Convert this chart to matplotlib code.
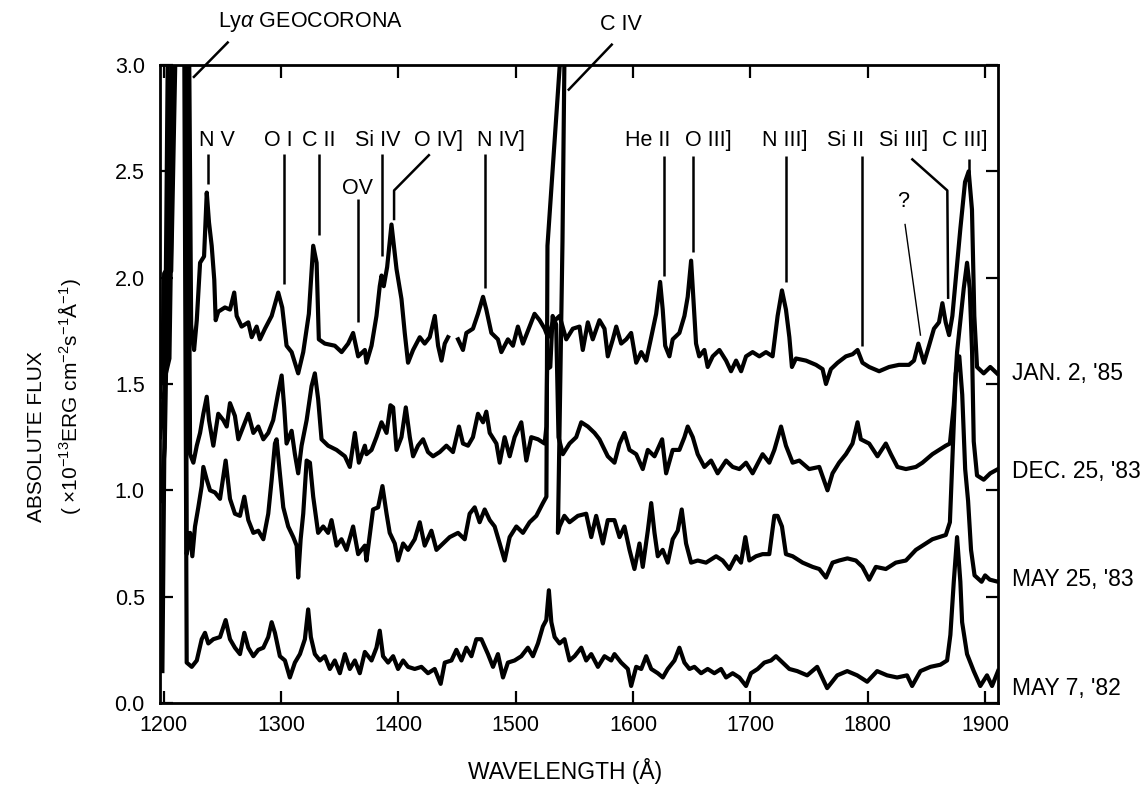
import numpy as np
import matplotlib
matplotlib.use("Agg")
import matplotlib.pyplot as plt

plt.rcParams['font.family'] = ['Liberation Sans', 'DejaVu Sans']
plt.rcParams['mathtext.fontset'] = 'custom'
plt.rcParams['mathtext.rm'] = 'Liberation Sans'
plt.rcParams['mathtext.it'] = 'Liberation Sans:italic'
plt.rcParams['mathtext.default'] = 'regular'

nan = np.nan

# --- spectra (wavelength in A, flux in 1e-13 erg/cm2/s/A) ---
wl_jan85 = [1197, 1199, 1200.5, 1204, 1206.5, 1211, 1221.5, 1223.5, 1224.5, 1226, 1228.3, 1231.1,
            1234.5, 1236.8, 1238.7, 1241, 1243.2, 1244.4, 1246.6, 1252.3, 1256.6, 1260.2, 1262.3,
            1266.5, 1272.2, 1275.1, 1279.3, 1282.1, 1286.4, 1292.1, 1297.7, 1301.1, 1304.8, 1309.1,
            1314.7, 1319, 1323.8, 1327.5, 1330.4, 1332.3, 1337.4, 1345.9, 1351.7, 1357.3, 1361.5,
            1365.8, 1371.5, 1372.9, 1377.2, 1381.4, 1384.2, 1385.7, 1387.6, 1390.5, 1394.2, 1398.5,
            1402.7, 1405.5, 1408.3, 1412.6, 1418.3, 1422.5, 1426.8, 1431.1, 1433.9, 1436.8, 1439.6,
            1442.4, 1446, 1450.9, 1455.1, 1458, 1463.6, 1467.9, 1472.2, 1475, 1479.3, 1484.9, 1487.8,
            1493.4, 1497.7, 1501.9, 1506.2, 1511.9, 1516.1, 1520.4, 1524.7, 1527.5, 1531.7, 1537.4,
            1543.1, 1548.7, 1554.4, 1557.2, 1561.5, 1565.7, 1571.4, 1575.7, 1578.5, 1582.8, 1585.7,
            1589.9, 1594.2, 1598.4, 1602.7, 1607, 1611.2, 1615.5, 1619.7, 1623.1, 1625.3, 1627.4,
            1631, 1633.8, 1639.5, 1643.8, 1646.6, 1649.5, 1651.4, 1653.7, 1656.4, 1660.8, 1663.6,
            1667.9, 1673.6, 1679.3, 1683.5, 1687.8, 1692.1, 1696.3, 1701.9, 1707.6, 1713.3, 1718.9,
            1723.2, 1726.9, 1730.3, 1733.2, 1735.4, 1738.8, 1747.4, 1755.9, 1761.5, 1764.4, 1768.6,
            1774.3, 1781.4, 1787.1, 1791.3, 1795.5, 1801.2, 1809.7, 1818.2, 1826.6, 1835.1, 1839.4,
            1843.1, 1847.9, 1852.2, 1856.4, 1860.7, 1863.6, 1866.4, 1869.3, 1872.1, 1878.9, 1882.9,
            1886.0, 1888.8, 1890.8, 1893.1, 1898.8, 1904.4, 1910.1]
flux_jan85 = [1.44, 1.62, 2.02, 2.05, 2.03, 3.3, 3.3, 1.78, 1.71, 1.66, 1.80, 2.07,
              2.10, 2.40, 2.26, 2.15, 1.99, 1.80, 1.84, 1.86, 1.85, 1.93, 1.82,
              1.77, 1.79, 1.72, 1.77, 1.71, 1.76, 1.82, 1.93, 1.86, 1.68, 1.65,
              1.55, 1.65, 1.83, 2.15, 2.07, 1.71, 1.69, 1.68, 1.65, 1.69, 1.74,
              1.63, 1.66, 1.60, 1.68, 1.82, 1.96, 2.01, 1.96, 2.05, 2.25, 2.04,
              1.90, 1.74, 1.60, 1.66, 1.72, 1.69, 1.72, 1.82, 1.68, 1.61, 1.69,
              1.72, nan, 1.71, 1.66, 1.74, 1.76, 1.83, 1.91, 1.85, 1.74, 1.71, 1.65,
              1.71, 1.68, 1.77, 1.69, 1.77, 1.83, 1.80, 1.76, 1.72, 1.79, 1.82,
              1.71, 1.76, 1.77, 1.66, 1.79, 1.71, 1.80, 1.76, 1.63, 1.71, 1.77,
              1.69, 1.71, 1.74, 1.60, 1.65, 1.61, 1.72, 1.83, 1.98, 1.85, 1.68,
              1.63, 1.71, 1.74, 1.82, 1.91, 2.08, 1.90, 1.69, 1.63, 1.66, 1.58,
              1.63, 1.66, 1.61, 1.56, 1.61, 1.56, 1.63, 1.65, 1.63, 1.65, 1.63,
              1.82, 1.94, 1.85, 1.72, 1.58, 1.62, 1.61, 1.59, 1.57, 1.50, 1.57,
              1.60, 1.63, 1.64, 1.66, 1.60, 1.58, 1.56, 1.58, 1.59, 1.59, 1.61,
              1.69, 1.60, 1.68, 1.76, 1.79, 1.88, 1.79, 1.73, 1.82, 2.23, 2.45,
              2.50, 2.32, 1.82, 1.58, 1.55, 1.58, 1.55]

wl_dec83 = [1197, 1199.5, 1202, 1205, 1209.5, 1220.5, 1222.6, 1225.4, 1228.3, 1231.1, 1233.9,
            1236.8, 1238.7, 1242.4, 1246.6, 1250.9, 1253.8, 1256.6, 1260.8, 1263.7, 1268, 1272.2,
            1276.5, 1280.7, 1285, 1289.2, 1293.4, 1297.7, 1300.6, 1302.8, 1304.8, 1309.1, 1311.9,
            1314.7, 1317.6, 1321.9, 1326.1, 1328.9, 1331.7, 1334.6, 1340.2, 1347.4, 1354.5, 1358.7,
            1363, 1366.4, 1371.5, 1372.9, 1377.2, 1381.4, 1385.7, 1390, 1393.3, 1395.6, 1398.5,
            1402.7, 1406.4, 1409.8, 1412.6, 1416.8, 1421.1, 1425.3, 1429.6, 1435.3, 1441, 1446.6,
            1451.7, 1455.1, 1459.4, 1463.6, 1467.9, 1472.2, 1475, 1477.9, 1483.6, 1486.4, 1490.6,
            1494.9, 1499.1, 1504.8, 1509.1, 1513.3, 1519, 1524.7, 1526.2, 1526.8, 1529.5, 1531.5,
            1534.5, 1536.5, 1540.2, 1545.9, 1551.6, 1555.9, 1561.5, 1567.2, 1571.4, 1578.5, 1584.2,
            1588.5, 1592.7, 1597, 1602.7, 1608.3, 1612.6, 1618.3, 1624.8, 1628.2, 1633.8, 1639.5,
            1643.8, 1646.6, 1650.9, 1655.1, 1660.8, 1666.5, 1672.1, 1679.3, 1684.9, 1690.6, 1696.3,
            1701.9, 1710.4, 1716.1, 1720.4, 1726.1, 1730.3, 1736, 1741.7, 1750.1, 1758.7, 1765.7,
            1770, 1775.6, 1781.4, 1787, 1791.3, 1794.1, 1801.2, 1808.3, 1815.4, 1819.7, 1825.3,
            1832.5, 1841, 1846.6, 1855.1, 1860.8, 1866.5, 1870, 1873.3, 1876.1, 1881.8, 1884.6,
            1886.9, 1888.9, 1890.3, 1893.1, 1898.8, 1904.4, 1911]
flux_dec83 = [1.25, 1.40, 1.55, 1.62, 3.3, 3.3, 1.17, 1.13, 1.21, 1.27, 1.36,
              1.44, 1.33, 1.21, 1.36, 1.33, 1.30, 1.41, 1.35, 1.24, 1.30, 1.36,
              1.27, 1.30, 1.24, 1.27, 1.33, 1.46, 1.54, 1.39, 1.22, 1.28, 1.17,
              1.08, 1.21, 1.33, 1.49, 1.55, 1.43, 1.24, 1.21, 1.19, 1.16, 1.11,
              1.27, 1.13, 1.21, 1.17, 1.19, 1.25, 1.32, 1.27, 1.40, 1.39, 1.19,
              1.25, 1.39, 1.25, 1.16, 1.21, 1.24, 1.18, 1.16, 1.18, 1.21, 1.18,
              1.30, 1.22, 1.21, 1.25, 1.36, 1.32, 1.37, 1.27, 1.22, 1.13, 1.25,
              1.16, 1.25, 1.32, 1.14, 1.25, 1.24, 1.22, 1.30, 1.57, 1.58, 1.82,
              1.78, 1.25, 1.17, 1.22, 1.25, 1.32, 1.30, 1.27, 1.24, 1.16, 1.13,
              1.22, 1.27, 1.19, 1.17, 1.10, 1.19, 1.16, 1.24, 1.08, 1.19, 1.19,
              1.25, 1.30, 1.25, 1.17, 1.11, 1.14, 1.08, 1.14, 1.11, 1.10, 1.13,
              1.08, 1.17, 1.13, 1.19, 1.30, 1.21, 1.13, 1.14, 1.10, 1.11, 1.00,
              1.08, 1.13, 1.17, 1.22, 1.32, 1.24, 1.22, 1.16, 1.22, 1.17, 1.11,
              1.10, 1.11, 1.13, 1.17, 1.19, 1.21, 1.22, 1.40, 1.65, 1.95, 2.07,
              1.95, 1.65, 1.23, 1.07, 1.05, 1.08, 1.10]

wl_may83 = [1197, 1199, 1201, 1207.5, 1218.5, 1219.7, 1222.6, 1224.5, 1226.8, 1229.6, 1232.5,
            1233.9, 1236.8, 1239.6, 1243.8, 1248.1, 1252.9, 1256.6, 1260.8, 1265.1, 1268.8, 1272.2,
            1276.5, 1280.7, 1285, 1289.2, 1292.1, 1294.9, 1296.3, 1299.1, 1302, 1306.2, 1310.5,
            1313.4, 1314.7, 1316.8, 1319, 1321.9, 1324.7, 1327.5, 1331.7, 1336, 1340.2, 1343.1,
            1347.4, 1351.6, 1355.9, 1361.5, 1365.8, 1371.5, 1372.9, 1378.5, 1382.8, 1386.5, 1390,
            1392.7, 1397, 1399.8, 1404.1, 1408.3, 1414, 1418.3, 1422.5, 1428.2, 1432.5, 1438.1,
            1443.8, 1450.9, 1456.6, 1460.8, 1465.1, 1469.3, 1473.6, 1477.9, 1482.1, 1486.4, 1490.6,
            1494.9, 1500.6, 1506.2, 1511.9, 1517.6, 1523.2, 1526.2, 1527.1, 1538.2, 1541.6, 1539.9,
            1536, 1537.4, 1541.5, 1545.9, 1553, 1560.1, 1564.4, 1568.6, 1574.3, 1578.5, 1584.2,
            1588.5, 1592.7, 1597, 1601.2, 1605.5, 1608.3, 1612.6, 1615.5, 1618.3, 1621.1, 1625.3,
            1629.6, 1633.8, 1638.1, 1641.5, 1645.2, 1649.5, 1655.1, 1662.2, 1670.8, 1676.4, 1682.1,
            1687.8, 1692, 1695.7, 1699.1, 1704.8, 1710.4, 1716.1, 1720.4, 1723.2, 1726.9, 1730.3,
            1736, 1744.5, 1753, 1758.7, 1764.4, 1770, 1775.6, 1782.7, 1789.9, 1795.5, 1801.2,
            1806.9, 1815.4, 1823.9, 1832.5, 1841, 1846.6, 1855.1, 1860.8, 1866.5, 1870, 1872.5,
            1875, 1878, 1880.5, 1883, 1885.5, 1888, 1891, 1897, 1900, 1904, 1911]
flux_may83 = [0.95, 1.05, 1.20, 3.3, 3.3, 0.70, 0.80, 0.69, 0.83, 0.92, 1.02,
              1.11, 1.05, 1.00, 0.99, 0.96, 1.14, 0.96, 0.89, 0.88, 0.97, 0.86,
              0.80, 0.81, 0.77, 0.89, 1.05, 1.22, 1.24, 1.08, 0.92, 0.83, 0.78,
              0.74, 0.59, 0.77, 0.89, 1.14, 1.13, 0.97, 0.80, 0.83, 0.80, 0.86,
              0.74, 0.77, 0.72, 0.83, 0.70, 0.74, 0.67, 0.91, 0.92, 1.02, 0.89,
              0.80, 0.75, 0.67, 0.75, 0.72, 0.77, 0.85, 0.74, 0.81, 0.72, 0.75,
              0.78, 0.80, 0.77, 0.89, 0.92, 0.85, 0.91, 0.86, 0.83, 0.75, 0.67,
              0.78, 0.83, 0.80, 0.85, 0.88, 0.94, 0.97, 2.15, 3.05, 3.05, 2.17,
              0.80, 0.83, 0.88, 0.85, 0.88, 0.89, 0.78, 0.88, 0.75, 0.86, 0.86,
              0.78, 0.83, 0.72, 0.63, 0.75, 0.64, 0.81, 0.94, 0.80, 0.69, 0.72,
              0.66, 0.77, 0.81, 0.91, 0.75, 0.66, 0.67, 0.66, 0.69, 0.67, 0.63,
              0.69, 0.66, 0.78, 0.67, 0.69, 0.70, 0.70, 0.88, 0.88, 0.83, 0.70,
              0.69, 0.66, 0.64, 0.63, 0.59, 0.66, 0.67, 0.68, 0.67, 0.64, 0.58,
              0.64, 0.63, 0.66, 0.67, 0.72, 0.74, 0.77, 0.78, 0.79, 0.85, 1.20,
              1.55, 1.63, 1.45, 1.10, 0.95, 0.72, 0.60, 0.57, 0.60, 0.58, 0.57]

wl_may82 = [1199, 1204, 1217.5, 1219.7, 1224, 1228.3, 1232.5, 1235.3, 1238.1, 1242.4, 1248.1,
            1252.9, 1256.6, 1260.8, 1265.1, 1268.8, 1272.2, 1276.5, 1280.7, 1285, 1289.2, 1292.1,
            1294.9, 1299.1, 1303.4, 1307.6, 1311.9, 1316.2, 1320.4, 1323.2, 1325.5, 1328.9, 1333.2,
            1337.4, 1341.7, 1345.9, 1350.2, 1354.5, 1358.7, 1363, 1367.2, 1371.5, 1377.2, 1381.4,
            1384.2, 1387, 1391.3, 1395.6, 1399.8, 1404.1, 1408.3, 1414, 1419.7, 1425.3, 1431,
            1436.1, 1439.6, 1445.3, 1449.5, 1453.8, 1458, 1462.3, 1466.5, 1470.8, 1476.4, 1480.7,
            1484.9, 1489.2, 1493.4, 1499.1, 1504.8, 1510.4, 1514.7, 1519, 1523.2, 1526.1, 1528.3,
            1530.4, 1533.2, 1537.4, 1541.6, 1545.9, 1550.2, 1555.9, 1560.1, 1564.4, 1570.1, 1575.7,
            1581.4, 1584.2, 1589.9, 1595.6, 1598.4, 1602.7, 1607, 1611.2, 1615.5, 1621.1, 1625.4,
            1629.6, 1635.3, 1639.5, 1643.8, 1648.1, 1652.3, 1658, 1663.6, 1669.3, 1675, 1679.3,
            1684.9, 1690.6, 1696.3, 1700.5, 1706.2, 1711.9, 1717.6, 1721.8, 1727.5, 1733.2, 1739.9,
            1748.4, 1756.9, 1765.4, 1774, 1782.5, 1791, 1799.5, 1808, 1816.5, 1825, 1833.5,
            1837.8, 1844.9, 1853.4, 1861.9, 1867.6, 1870.4, 1873.3, 1876.1, 1878.9, 1880.4, 1884.6,
            1890.3, 1895.9, 1901.6, 1905.9, 1911]
flux_may82 = [0.15, 3.3, 3.3, 0.19, 0.17, 0.20, 0.30, 0.33, 0.28, 0.30, 0.31,
              0.39, 0.30, 0.26, 0.23, 0.33, 0.26, 0.22, 0.25, 0.26, 0.31, 0.38,
              0.33, 0.22, 0.20, 0.12, 0.19, 0.23, 0.30, 0.44, 0.31, 0.23, 0.20,
              0.22, 0.16, 0.20, 0.14, 0.23, 0.16, 0.20, 0.14, 0.24, 0.20, 0.26,
              0.34, 0.22, 0.19, 0.22, 0.16, 0.20, 0.17, 0.16, 0.17, 0.14, 0.16,
              0.09, 0.19, 0.20, 0.25, 0.20, 0.26, 0.22, 0.30, 0.30, 0.23, 0.17,
              0.23, 0.12, 0.19, 0.20, 0.22, 0.26, 0.22, 0.28, 0.36, 0.39, 0.53,
              0.38, 0.31, 0.28, 0.30, 0.20, 0.22, 0.26, 0.20, 0.23, 0.17, 0.22,
              0.20, 0.23, 0.19, 0.16, 0.08, 0.17, 0.16, 0.22, 0.16, 0.14, 0.12,
              0.16, 0.20, 0.26, 0.19, 0.16, 0.17, 0.14, 0.16, 0.14, 0.16, 0.12,
              0.14, 0.12, 0.08, 0.14, 0.16, 0.19, 0.20, 0.22, 0.19, 0.16, 0.15,
              0.13, 0.17, 0.07, 0.13, 0.15, 0.13, 0.10, 0.15, 0.13, 0.12, 0.13,
              0.08, 0.15, 0.17, 0.18, 0.20, 0.32, 0.57, 0.78, 0.57, 0.38, 0.23,
              0.15, 0.08, 0.13, 0.08, 0.15]

spectra = [(wl_jan85, flux_jan85), (wl_dec83, flux_dec83),
           (wl_may83, flux_may83), (wl_may82, flux_may82)]

# epoch labels on the right: text, flux level
epoch_labels = ["JAN. 2, '85", "DEC. 25, '83", "MAY 25, '83", "MAY 7, '82"]
epoch_levels = [1.55, 1.09, 0.58, 0.07]

# line identifications: label, label wavelength, marker wavelength, marker top, marker bottom
line_ids = ["N V", "O I", "C II", "Si IV", "N IV]", "He II", "O III]", "N III]", "Si II", "C III]"]
line_label_wl = [1245.3, 1297.4, 1332.3, 1382.5, 1487.8, 1612.3, 1664.2, 1729.6, 1781.4, 1882.8]
line_mark_wl = [1238.1, 1302.8, 1332.3, 1385.7, 1473.6, 1626.2, 1650.9, 1730.3, 1795.5, 1886.3]
line_mark_top = [2.58, 2.58, 2.58, 2.58, 2.58, 2.57, 2.57, 2.57, 2.57, 2.56]
line_mark_bot = [2.44, 1.97, 2.20, 2.10, 1.95, 2.01, 2.12, 1.98, 1.68, 2.49]

fig = plt.figure(figsize=(11.44, 7.86), dpi=100)
ax = fig.add_axes([0.1399, 0.1056, 0.7325, 0.8117])

for wl, fl in spectra:
    ax.plot(wl, fl, color='black', lw=3.0, solid_joinstyle='round')

ax.set_xlim(1197, 1911)
ax.set_ylim(0, 3.0)
ax.set_xticks(np.arange(1200, 1901, 100))
ax.set_yticks(np.arange(0, 3.01, 0.5))
ax.set_yticklabels([f"{v:.1f}" for v in np.arange(0, 3.01, 0.5)])
ax.tick_params(direction='in', top=True, right=True, length=9, width=1.6,
               labelsize=15.5, colors='black')
ax.tick_params(axis='y', pad=11)
ax.tick_params(axis='x', pad=9)
for s in ax.spines.values():
    s.set_linewidth(2.0)

fs = 15.5
txt = dict(fontsize=fs, ha='center', va='center', color='black')
lk = dict(color='black', lw=1.8, clip_on=False, solid_capstyle='butt')

for name, lw_, mw, top, bot in zip(line_ids, line_label_wl, line_mark_wl,
                                    line_mark_top, line_mark_bot):
    ax.text(lw_, 2.645, name, **txt)
    ax.plot([mw, mw], [top, bot], **lk)

# lines with bent pointers
ax.text(1434.4, 2.645, "O IV]", **txt)
ax.plot([1426.8, 1396.4, 1396.4], [2.58, 2.41, 2.27], **lk)
ax.text(1365.0, 2.42, "OV", **txt)
ax.plot([1365.3, 1365.3], [2.37, 1.79], **lk)
ax.text(1830.1, 2.645, "Si III]", **txt)
ax.plot([1837.2, 1867.8, 1868.5], [2.56, 2.41, 1.90], **lk)
ax.text(1830.1, 2.36, "?", **txt)
ax.plot([1831.8, 1844.9], [2.25, 1.73], color='black', lw=1.0, clip_on=False)
ax.text(1589.9, 3.19, "C IV", **txt)
ax.plot([1582.6, 1544.5], [3.10, 2.88], **lk)
ax.text(1325.4, 3.20, r"Ly$\mathit{\alpha}$ GEOCORONA", **txt)
ax.plot([1255.4, 1225.1], [3.11, 2.94], **lk)

for lab, lev in zip(epoch_labels, epoch_levels):
    ax.text(1922.9, lev, lab, fontsize=16.5, ha='left', va='center')

fig.text(0.032, 0.445, "ABSOLUTE FLUX", rotation=90, ha='center', va='center', fontsize=15)
fig.text(0.061, 0.495, r"( $\times$10$^{-13}$ERG cm$^{-2}$s$^{-1}$Å$^{-1}$)",
         rotation=90, ha='center', va='center', fontsize=15)
fig.text(0.494, 0.0185, "WAVELENGTH (Å)", ha='center', va='center', fontsize=16.5)

fig.savefig("out.png", dpi=100)
